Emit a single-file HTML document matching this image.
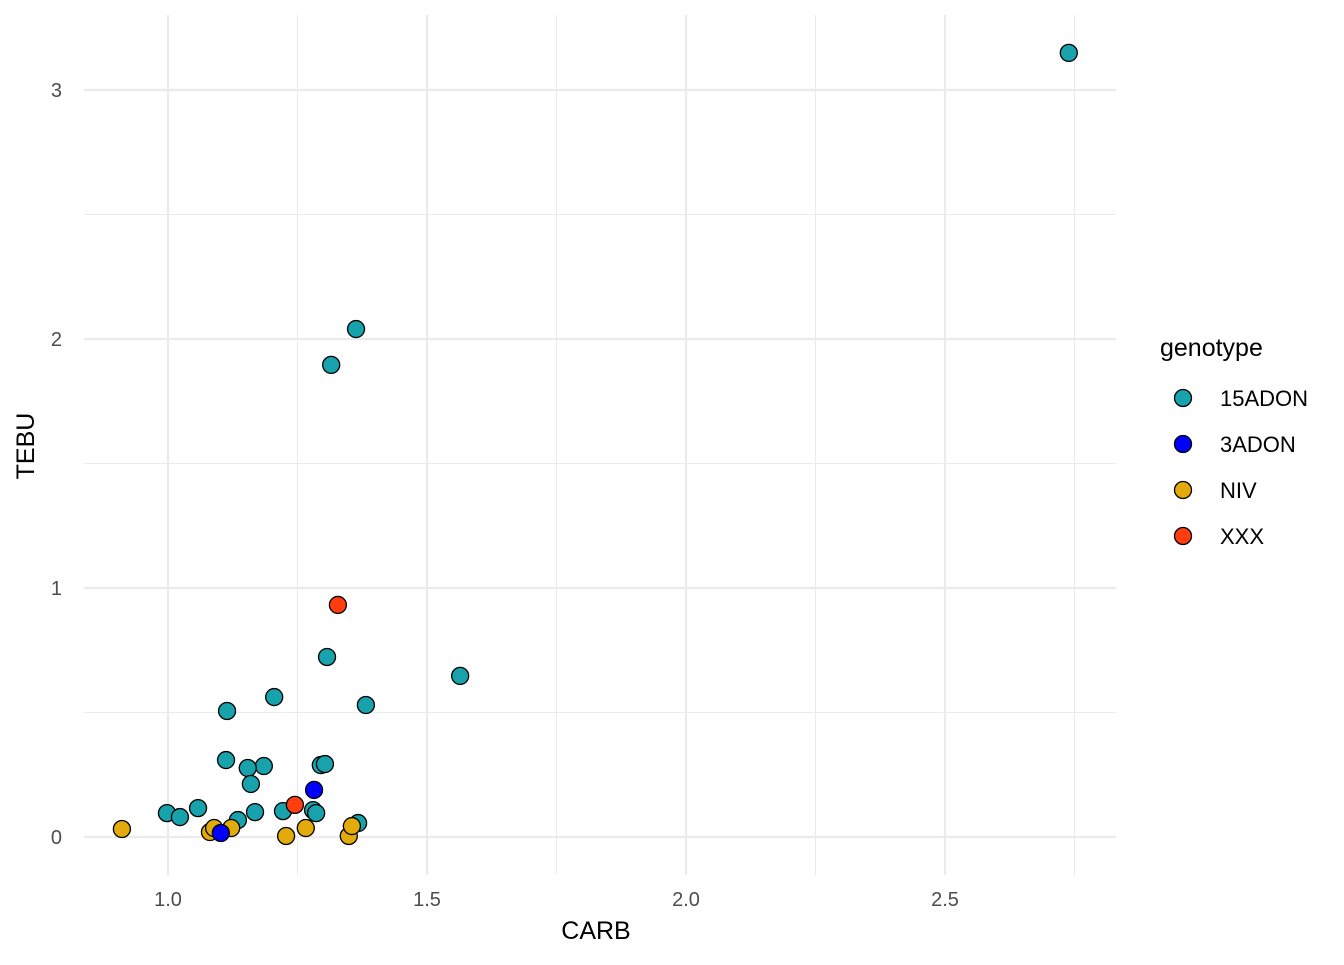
<!DOCTYPE html>
<html><head><meta charset="utf-8"><style>
body{margin:0;background:#fff;}
svg text{font-family:"Liberation Sans",Arial,sans-serif;}
</style></head><body>
<svg id="chart" width="1344" height="960" xmlns="http://www.w3.org/2000/svg">
<g id="grid"></g>
<g id="axes"></g>
<g id="points"></g>
<text x="596" y="939" font-size="25" text-anchor="middle" fill="#000">CARB</text>
<text x="0" y="0" font-size="25" text-anchor="middle" fill="#000" transform="translate(34,446) rotate(-90)">TEBU</text>
<g>
<text x="1160" y="356" font-size="25" fill="#000">genotype</text>
<g id="legend-items"></g>
</g>
</svg>
<script>
const groups=["15ADON","NIV","3ADON","XXX"];
const colors=["#17A2AC","#E2AA0B","#0000FF","#FF3D0E"];
const legendGroups=["15ADON","3ADON","NIV","XXX"];
const legendColors=["#17A2AC","#0000FF","#E2AA0B","#FF3D0E"];
const carb15=[2.739,1.363,1.315,1.564,1.307,1.382,1.205,1.114,1.112,1.185,1.154,1.160,1.295,1.303,1.058,0.998,1.023,1.135,1.168,1.222,1.280,1.286,1.367];
const tebu15=[3.149,2.040,1.896,0.647,0.723,0.530,0.562,0.506,0.309,0.285,0.277,0.213,0.289,0.293,0.116,0.096,0.080,0.068,0.100,0.104,0.108,0.096,0.056];
const carb3=[1.282,1.102];
const tebu3=[0.189,0.016];
const carbNiv=[0.911,1.081,1.089,1.122,1.228,1.266,1.349,1.355];
const tebuNiv=[0.032,0.020,0.036,0.036,0.004,0.036,0.004,0.044];
const carbX=[1.328,1.245];
const tebuX=[0.932,0.129];
const xTicks=[1.0,1.5,2.0,2.5];
const xTickLabels=["1.0","1.5","2.0","2.5"];
const yTicks=[0,1,2,3];
const yTickLabels=["0","1","2","3"];
const xMinor=[0.75,1.25,1.75,2.25,2.75];
const yMinor=[0.5,1.5,2.5];
const X=v=>168+(v-1)*518, Y=v=>837-v*249;
const ns="http://www.w3.org/2000/svg";
function mk(t,a,p){const e=document.createElementNS(ns,t);for(const k in a)e.setAttribute(k,a[k]);p.appendChild(e);return e;}
const grid=document.getElementById('grid'),axes=document.getElementById('axes'),pts=document.getElementById('points');
const L=84,R=1116,T=15,B=875;
xMinor.forEach(v=>{if(X(v)<L||X(v)>R)return;const e=mk('line',{x1:X(v),x2:X(v),y1:T,y2:B,stroke:'#EBEBEB','stroke-width':1.1},grid);

});
yMinor.forEach(v=>{const e=mk('line',{x1:L,x2:R,y1:Y(v),y2:Y(v),stroke:'#EBEBEB','stroke-width':1.1},grid);

});
xTicks.forEach((v,i)=>{const e=mk('line',{x1:X(v),x2:X(v),y1:T,y2:B,stroke:'#EBEBEB','stroke-width':2.2},grid);


const t=mk('text',{x:X(v),y:906,'font-size':20,'text-anchor':'middle',fill:'#4D4D4D'},axes);t.textContent=xTickLabels[i];

});
yTicks.forEach((v,i)=>{const e=mk('line',{x1:L,x2:R,y1:Y(v),y2:Y(v),stroke:'#EBEBEB','stroke-width':2.2},grid);


const t=mk('text',{x:62,y:Y(v)+7,'font-size':20,'text-anchor':'end',fill:'#4D4D4D'},axes);t.textContent=yTickLabels[i];

});
const data=[[carb15,tebu15],[carbNiv,tebuNiv],[carb3,tebu3],[carbX,tebuX]];
data.forEach((d,g)=>{d[0].forEach((cx,i)=>{const c=mk('circle',{cx:X(cx),cy:Y(d[1][i]),r:8.5,fill:colors[g],stroke:'#000','stroke-width':1.3},pts);

});});
const li=document.getElementById('legend-items');
legendGroups.forEach((g,i)=>{const y=398+i*46;
const c=mk('circle',{cx:1183,cy:y,r:8.5,fill:legendColors[i],stroke:'#000','stroke-width':1.3},li);


const t=mk('text',{x:1220,y:y+8,'font-size':22,fill:'#000'},li);t.textContent=g;

});
</script>
</body></html>
